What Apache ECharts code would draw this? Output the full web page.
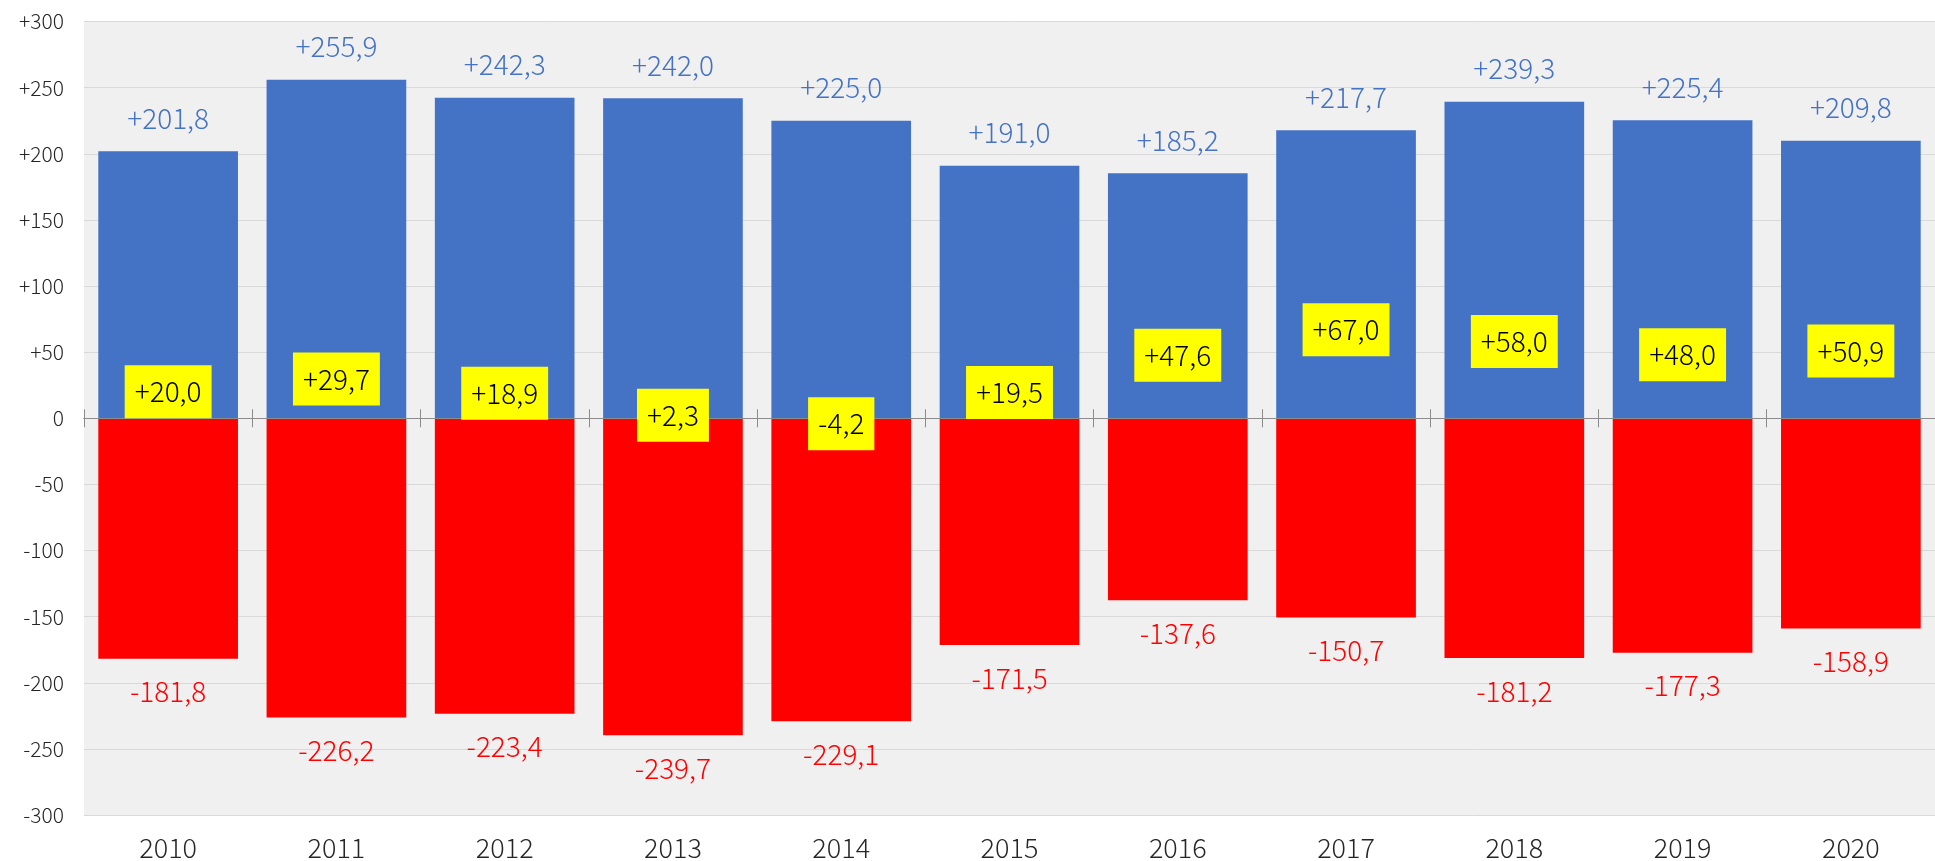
<!DOCTYPE html>
<html>
<head>
<meta charset="utf-8">
<script src="https://cdn.jsdelivr.net/npm/echarts@6/dist/echarts.min.js"></script>
<style>
html,body{margin:0;padding:0;background:#fff;}
#chart{width:1935px;height:861px;}
</style>
</head>
<body>
<div id="chart"></div>
<script>
var years = ['2010','2011','2012','2013','2014','2015','2016','2017','2018','2019','2020'];
var positiveValues = [201.8, 255.9, 242.3, 242.0, 225.0, 191.0, 185.2, 217.7, 239.3, 225.4, 209.8];
var negativeValues = [-181.8, -226.2, -223.4, -239.7, -229.1, -171.5, -137.6, -150.7, -181.2, -177.3, -158.9];
var netValues = [20.0, 29.7, 18.9, 2.3, -4.2, 19.5, 47.6, 67.0, 58.0, 48.0, 50.9];
var yTicks = {min: -300, max: 300, interval: 50};

var FONT = '"Noto Sans CJK JP", "Noto Sans", sans-serif';
var W = 300;
function fmt(v) {
  var s = Math.abs(v).toFixed(1).replace('.', ',');
  return (v < 0 ? '-' : '+') + s;
}
function fmtAxis(v) {
  if (v > 0) return '+' + v;
  return String(v);
}

var chart = echarts.init(document.getElementById('chart'));
var option = {
  backgroundColor: '#ffffff',
  animation: false,
  grid: {
    left: 84, right: -12, top: 21.5, bottom: 45.3,
    show: true, backgroundColor: '#F0F0F0', borderWidth: 0,
    containLabel: false
  },
  xAxis: [
    {
      type: 'category', data: years, position: 'bottom',
      axisLine: {show: false, onZero: false},
      axisTick: {show: false},
      axisLabel: {color: '#262626', fontFamily: FONT, fontWeight: W, fontSize: 27, margin: 19},
      splitLine: {show: false}
    },
    {
      type: 'category', data: years, position: 'bottom', z: 5,
      axisLine: {show: true, onZero: true, onZeroAxisIndex: 0, lineStyle: {color: '#8C8C8C', width: 1}},
      axisTick: {show: true, length: 9, lineStyle: {color: '#8C8C8C', width: 1}},
      axisLabel: {show: false},
      splitLine: {show: false}
    },
    {
      type: 'category', data: years, position: 'bottom', z: 5,
      axisLine: {show: true, onZero: true, onZeroAxisIndex: 0, lineStyle: {color: '#8C8C8C', width: 1}},
      axisTick: {show: true, inside: true, length: 9, lineStyle: {color: '#8C8C8C', width: 1}},
      axisLabel: {show: false},
      splitLine: {show: false}
    }
  ],
  yAxis: {
    type: 'value', min: yTicks.min, max: yTicks.max, interval: yTicks.interval,
    axisLine: {show: false}, axisTick: {show: false},
    axisLabel: {color: '#262626', fontFamily: FONT, fontWeight: W, fontSize: 21, margin: 20, formatter: fmtAxis},
    splitLine: {lineStyle: {color: '#D9D9D9', width: 1}}
  },
  series: [
    {
      type: 'bar', name: 'plus', data: positiveValues, xAxisIndex: 0,
      barWidth: '83%', barGap: '-100%', z: 2,
      itemStyle: {color: '#4472C4'},
      label: {show: true, position: 'top', distance: 19, color: '#4472C4',
        fontFamily: FONT, fontWeight: W, fontSize: 28, formatter: function (p) { return fmt(p.value); }}
    },
    {
      type: 'bar', name: 'minus', data: negativeValues, xAxisIndex: 0,
      barWidth: '83%', barGap: '-100%', z: 2,
      itemStyle: {color: '#FF0000'},
      label: {show: true, position: 'bottom', distance: 19, color: '#FF0000',
        fontFamily: FONT, fontWeight: W, fontSize: 28, formatter: function (p) { return fmt(p.value); }}
    },
    {
      type: 'scatter', name: 'net', data: netValues, xAxisIndex: 0,
      symbolSize: 1, z: 20,
      itemStyle: {color: 'rgba(0,0,0,0)', opacity: 1},
      label: {show: true, position: 'inside', color: '#000000', opacity: 1,
        fontFamily: FONT, fontWeight: W, fontSize: 28, lineHeight: 33,
        backgroundColor: '#FFFF00', padding: [10, 10, 10, 10],
        formatter: function (p) { return fmt(p.value); }}
    }
  ]
};
chart.setOption(option);
</script>
</body>
</html>
